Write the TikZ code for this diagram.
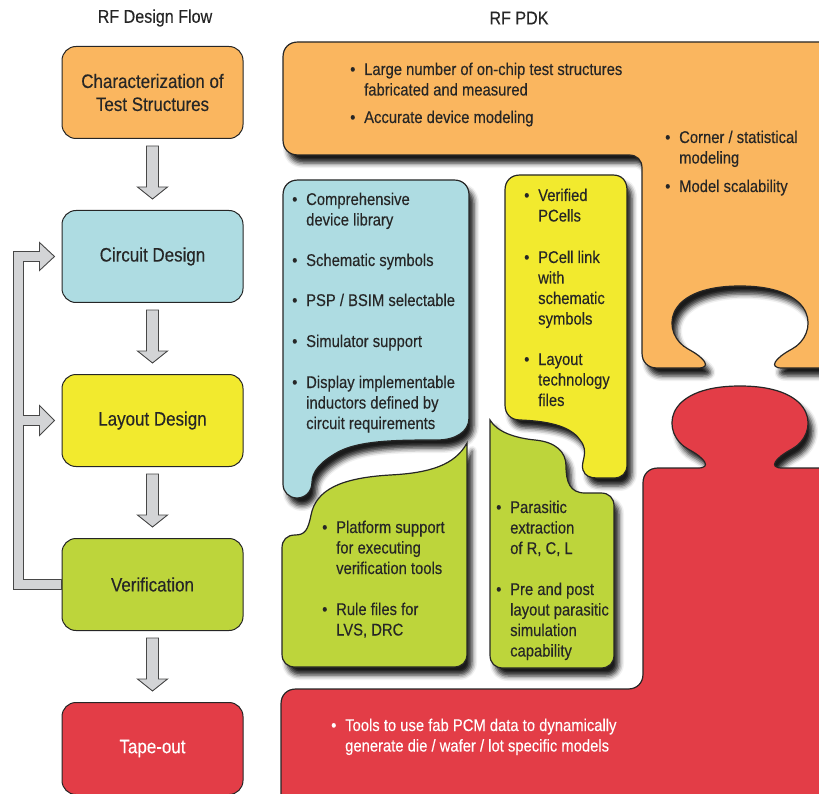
\documentclass[tikz,border=0pt]{standalone}
\usepackage{fontspec}
\setmainfont{Liberation Sans}[FakeStretch=0.87,FakeBold=0.25]
\usepackage{tikz}
\usetikzlibrary{positioning,calc,shadows.blur}
\definecolor{pdkorange}{HTML}{FAB65F}
\definecolor{pdkcyan}{HTML}{AEDCE2}
\definecolor{pdkyellow}{HTML}{F2EA2E}
\definecolor{pdkgreen}{HTML}{BDD53B}
\definecolor{pdkred}{HTML}{E33D47}
\definecolor{arrowgray}{HTML}{D3D4D6}
\definecolor{ink}{HTML}{262626}
\tikzstyle{flowbox} = [draw=ink, line width=1pt, rounded corners=14pt, minimum width=181pt, minimum height=92pt, align=center, text=ink, font={\fontsize{19.5}{23}\selectfont}]
\tikzstyle{blockarrow} = [draw=ink!85, fill=arrowgray, line width=0.9pt]
\tikzstyle{piece} = [draw=ink, line width=1.2pt, blur shadow={shadow xshift=5pt, shadow yshift=-8pt, shadow blur radius=5pt, shadow opacity=90}]
\tikzstyle{pdktext} = [anchor=base west, inner sep=0pt, text=ink, font={\fontsize{17}{20.5}\selectfont}]
\tikzstyle{heading} = [text=ink, font={\fontsize{18.5}{22}\selectfont}]
\newcommand{\pdkitem}[1]{\makebox[14pt][l]{\textbullet}\begin{tabular}[t]{@{}l@{}}#1\end{tabular}}

\begin{document}
\begin{tikzpicture}[x=1pt,y=-1pt]
        \clip (0,0) rectangle (819,794);
        \node[heading](flowtitle) at (155,18){RF Design Flow};
        \node[heading](pdktitle) at (519,18){RF PDK};

        % design flow column
        \node[flowbox,fill=pdkorange](char) at (152.5,92.5){Characterization of\\Test Structures};
        \node[flowbox,fill=pdkcyan,below=71pt of char](circ){Circuit Design};
        \node[flowbox,fill=pdkyellow,below=71pt of circ](lay){Layout Design};
        \node[flowbox,fill=pdkgreen,below=71pt of lay](ver){Verification};
        \node[flowbox,fill=pdkred,text=white,below=71pt of ver](tape){Tape-out};
        \foreach \a/\b in {char/circ,circ/lay,lay/ver,ver/tape}
          \draw[blockarrow]($(\a.south)+(-6,7)$)--($(\b.north)+(-6,-23)$)--++(-9,0)--($(\b.north)+(0,-11)$)--($(\b.north)+(15,-23)$)--++(-9,0)--($(\a.south)+(6,7)$)--cycle;
        % loop back from verification
        \draw[blockarrow]($(ver.west)+(0,-5)$)--($(ver.west)+(-38,-5)$)--($(lay.west)+(-38,5)$)--($(lay.west)+(-22,5)$)--($(lay.west)+(-22,15)$)--($(lay.west)+(-7,0)$)--($(lay.west)+(-22,-15)$)--($(lay.west)+(-22,-5)$)--($(lay.west)+(-38,-5)$)--($(circ.west)+(-38,5)$)--($(circ.west)+(-22,5)$)--($(circ.west)+(-22,14)$)--($(circ.west)+(-7,0)$)--($(circ.west)+(-22,-14)$)--($(circ.west)+(-22,-5)$)--($(circ.west)+(-48,-5)$)--($(ver.west)+(-48,5)$)--($(ver.west)+(0,5)$)--cycle;

        % PDK pieces
        \path[piece,fill=pdkorange](298,42)--(830,42)--(830,368)--(782,368)
          ..controls(768,368)and(775,358)..(792,349)..controls(818,335)and(820,286)..(740,286)
          ..controls(660,286)and(662,335)..(688,349)..controls(705,358)and(712,368)..(698,368)
          --(657,368)..controls(648,368)and(642,362)..(642,353)--(642,168)
          ..controls(642,160)and(637,155)..(629,155)--(298,155)..controls(289,155)and(283,149)..(283,140)
          --(283,57)..controls(283,48)and(289,42)..(298,42)--cycle;
        \path[piece,fill=pdkcyan](283,195)..controls(283,186)and(289,180)..(298,180)--(454,180)
          ..controls(463,180)and(469,186)..(469,195)--(469,418)..controls(469,432)and(455,440)..(437,440)
          ..controls(400,440)and(360,440)..(338,452)..controls(320,462)and(312,472)..(312,482)
          ..controls(312,492)and(305,498)..(297,498)..controls(289,498)and(283,492)..(283,484)--cycle;
        \path[piece,fill=pdkyellow](505,190)..controls(505,181)and(511,175)..(520,175)--(613,175)
          ..controls(622,175)and(627,181)..(627,190)--(627,465)..controls(627,473)and(622,478)..(614,478)
          --(597,478)..controls(590,478)and(585,476)..(583,470)..controls(580,462)and(590,452)..(580,440)
          ..controls(570,425)and(545,421)..(520,420)..controls(511,420)and(505,414)..(505,405)--cycle;
        \path[piece,fill=pdkgreen](467,443)--(467,654)..controls(467,662)and(462,667)..(454,667)
          --(295,667)..controls(287,667)and(282,662)..(282,654)--(282,548)
          ..controls(282,540)and(287,535)..(295,535)..controls(305,535)and(308,530)..(311,515)
          ..controls(316,490)and(340,478)..(390,475)..controls(430,473)and(455,465)..(467,443)--cycle;
        \path[piece,fill=pdkgreen](490,420)..controls(497,432)and(515,438)..(535,440)
          ..controls(556,442)and(566,452)..(566,466)..controls(566,482)and(570,493)..(585,493)
          --(601,493)..controls(609,493)and(614,498)..(614,506)--(614,655)
          ..controls(614,663)and(609,668)..(601,668)--(503,668)..controls(495,668)and(490,663)..(490,655)--cycle;
        \path[piece,fill=pdkred](281,820)--(281,704)..controls(281,695)and(287,689)..(296,689)--(628,689)
          ..controls(637,689)and(643,683)..(643,674)--(643,483)..controls(643,474)and(649,468)..(658,468)
          --(698,468)..controls(712,468)and(705,458)..(688,449)..controls(662,435)and(660,386)..(740,386)
          ..controls(820,386)and(818,435)..(792,449)..controls(775,458)and(768,468)..(782,468)
          --(830,468)--(830,820)--cycle;

        % PDK contents
        \node[pdktext](o1) at (350,75){\pdkitem{Large number of on-chip test structures\\fabricated and measured}};
        \node[pdktext](o2) at (350,123){\pdkitem{Accurate device modeling}};
        \node[pdktext](o3) at (665,143){\pdkitem{Corner / statistical\\modeling}};
        \node[pdktext](o4) at (665,192){\pdkitem{Model scalability}};
        \node[pdktext](c1) at (292,205){\pdkitem{Comprehensive\\device library}};
        \node[pdktext](c2) at (292,266){\pdkitem{Schematic symbols}};
        \node[pdktext](c3) at (292,306){\pdkitem{PSP / BSIM selectable}};
        \node[pdktext](c4) at (292,347){\pdkitem{Simulator support}};
        \node[pdktext](c5) at (292,388){\pdkitem{Display implementable\\inductors defined by\\circuit requirements}};
        \node[pdktext](y1) at (524,201){\pdkitem{Verified\\PCells}};
        \node[pdktext](y2) at (524,263){\pdkitem{PCell link\\with\\schematic\\symbols}};
        \node[pdktext](y3) at (524,365){\pdkitem{Layout\\technology\\files}};
        \node[pdktext](g1) at (322,533){\pdkitem{Platform support\\for executing\\verification tools}};
        \node[pdktext](g2) at (322,615){\pdkitem{Rule files for\\LVS, DRC}};
        \node[pdktext](p1) at (496,513){\pdkitem{Parasitic\\extraction\\of R, C, L}};
        \node[pdktext](p2) at (496,595){\pdkitem{Pre and post\\layout parasitic\\simulation\\capability}};
        \node[pdktext,text=white](r1) at (331,731){\pdkitem{Tools to use fab PCM data to dynamically\\generate die / wafer / lot specific models}};
      \end{tikzpicture}
\end{document}
